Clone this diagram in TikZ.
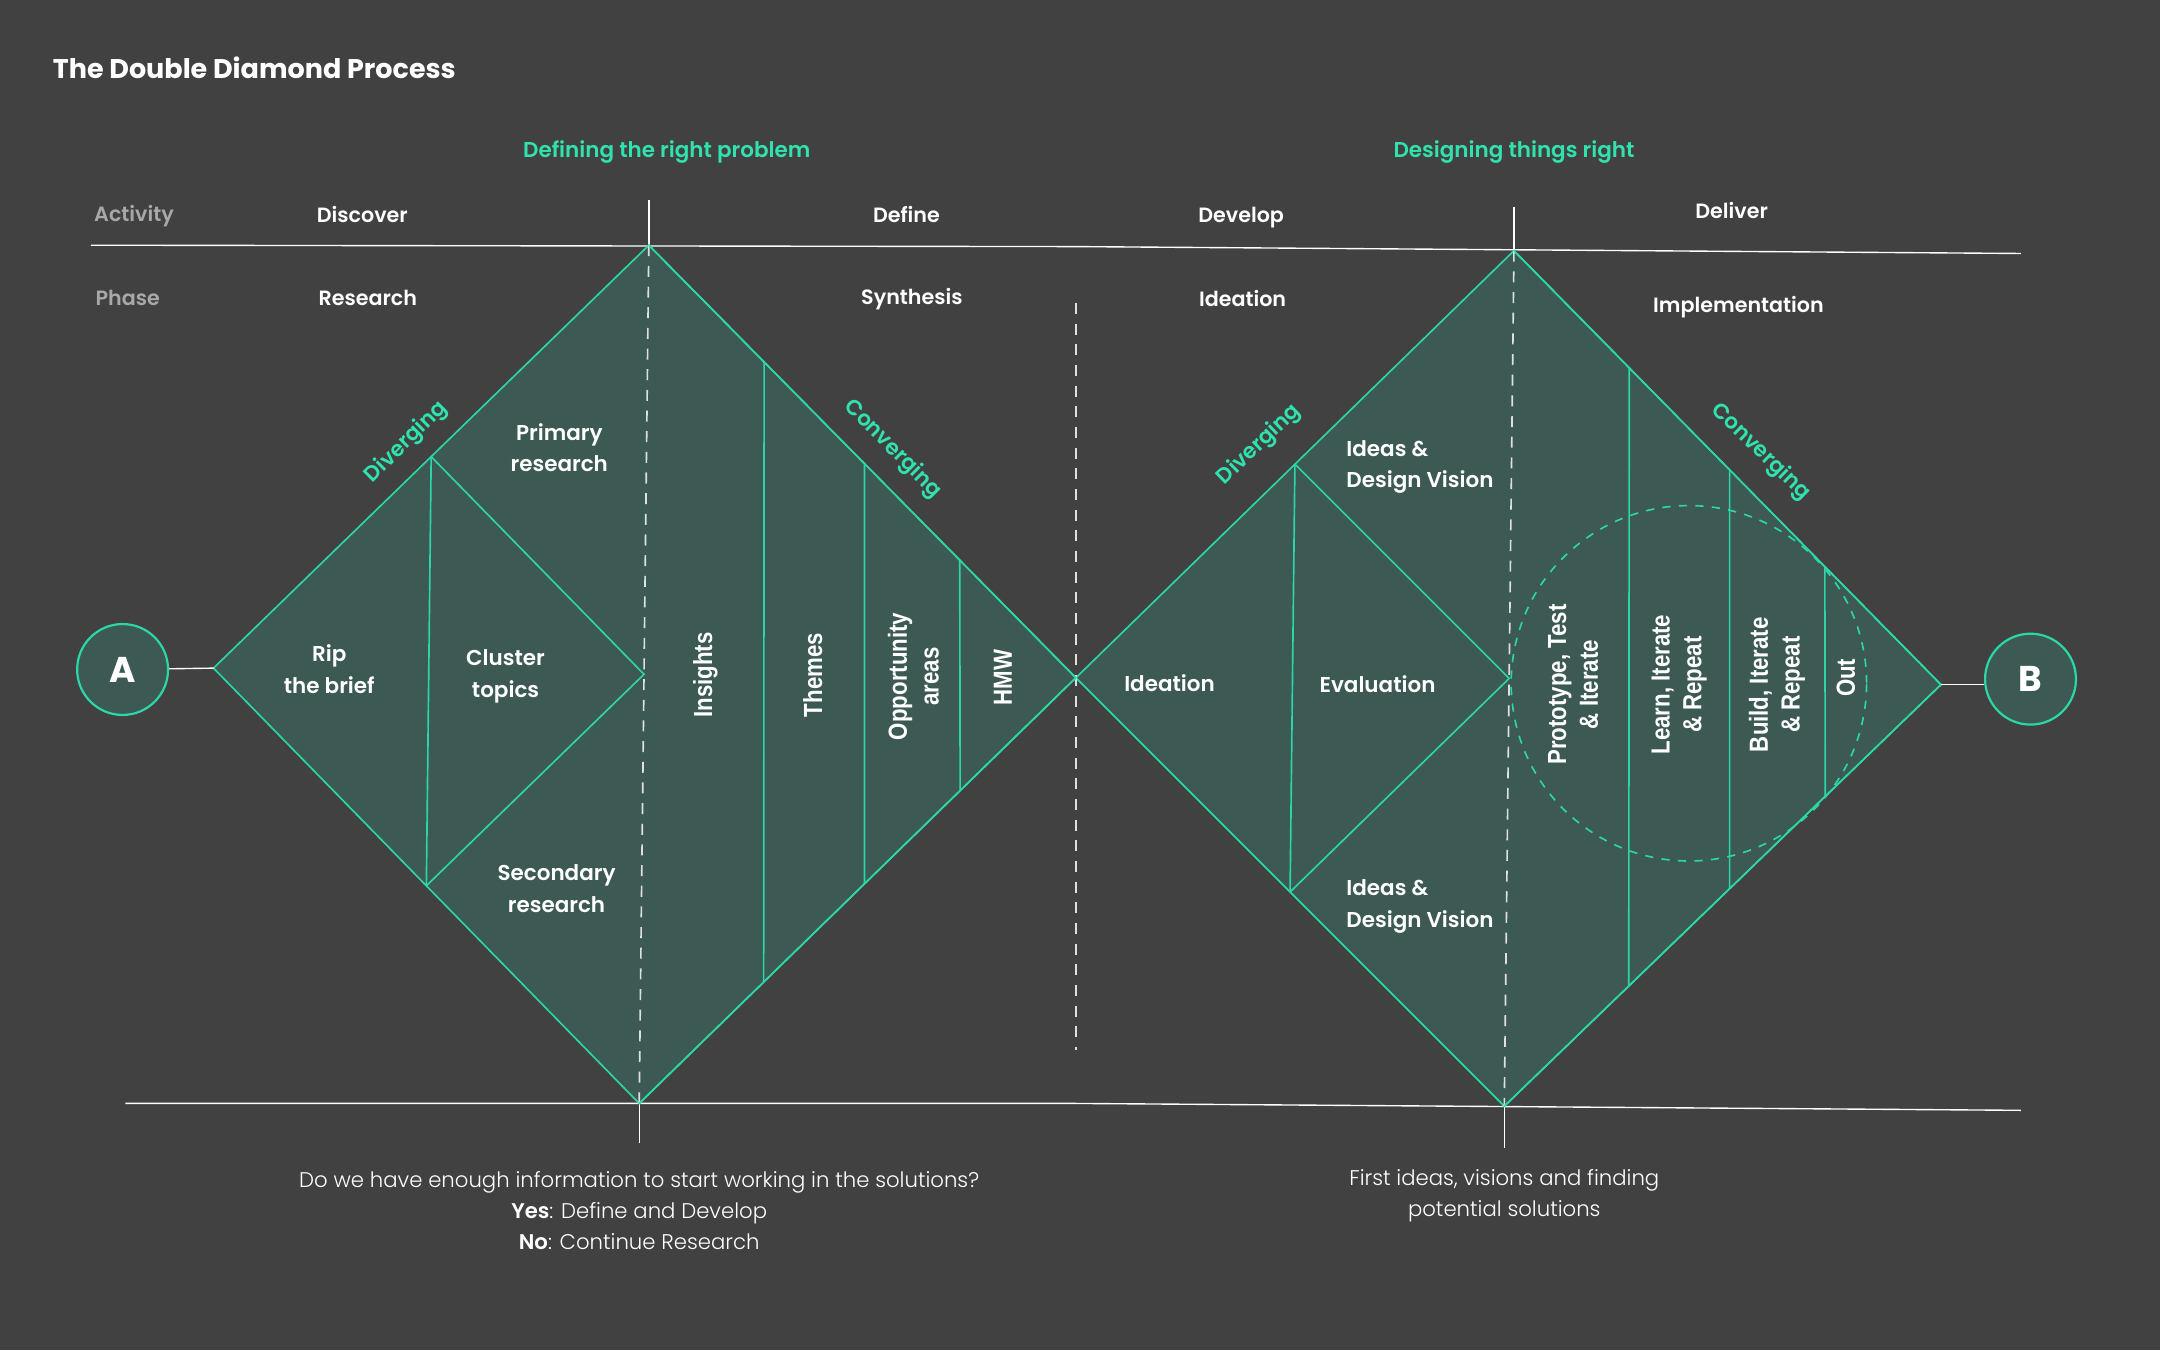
\documentclass[tikz,border=0pt]{standalone}
\usepackage{fontspec}
\setmainfont{Poppins}
\newfontfamily\semib{Poppins SemiBold}
\newfontfamily\plight{Poppins Light}
\newfontfamily\condf[FakeStretch=0.85]{Liberation Sans}
\usetikzlibrary{calc}
\definecolor{bgc}{HTML}{414141}
\definecolor{dfill}{HTML}{3C5A53}
\definecolor{tealline}{HTML}{2CD6A6}
\definecolor{tealtxt}{HTML}{30E2AE}
\definecolor{graytxt}{HTML}{A8A8A8}
\tikzset{
  lbl/.style={text=white, font=\semib\fontsize{7.8}{11.5}\selectfont, align=center, inner sep=0pt},
  hdr/.style={text=white, font=\semib\fontsize{7.5}{9}\selectfont, inner sep=0pt},
  rowlbl/.style={text=graytxt, font=\semib\fontsize{7.5}{9}\selectfont, inner sep=0pt, anchor=west},
  phasetxt/.style={text=tealtxt, font=\semib\fontsize{7.8}{9}\selectfont, inner sep=0pt},
  vlbl/.style={text=white, font=\condf\bfseries\fontsize{9.5}{11.5}\selectfont, rotate=90, align=center, inner sep=0pt},
  dline/.style={draw=tealline, line width=0.6pt},
  dshape/.style={fill=dfill, draw=tealline, line width=0.6pt, line join=miter},
  hrule/.style={draw=white, line width=0.5pt},
  axisdash/.style={draw=white!88!black, line width=0.6pt, dash pattern=on 4pt off 3.5pt},
  endpt/.style={circle, minimum size=33pt, draw=tealline, fill=dfill, line width=0.8pt, text=white, font=\bfseries\fontsize{13}{13}\selectfont, inner sep=0pt},
  notetxt/.style={text=white, font=\plight\fontsize{7.7}{11.25}\selectfont, align=center, inner sep=0pt},
}
\begin{document}
\begin{tikzpicture}[x=0.5pt,y=-0.5pt]
\fill[bgc] (0,0) rectangle (1568,980);
\useasboundingbox (0,0) rectangle (1568,980);

% key points
\coordinate (L1) at (155,485);
\coordinate (T1) at (471,178);
\coordinate (R1) at (781,492);
\coordinate (B1) at (464,801);
\coordinate (T2) at (1099,182);
\coordinate (R2) at (1409,497);
\coordinate (B2) at (1092,803);

% rules
\coordinate (tl) at (66,178);
\coordinate (tm) at (781,179);
\coordinate (tr) at (1467,184);
\coordinate (bl) at (91,801);
\coordinate (bm) at (781,801);
\coordinate (br) at (1467,806);
\draw[hrule] (tl) -- (tm) -- (tr);
\draw[hrule] (bl) -- (bm) -- (br);
\coordinate (tt1) at (471,145);
\coordinate (tt2) at (1099,150);
\coordinate (bt1) at (464,830);
\coordinate (bt2) at (1092,833);
\draw[hrule] (tt1) -- (T1);
\draw[hrule] (tt2) -- (T2);
\draw[hrule] (bt1) -- (B1);
\draw[hrule] (bt2) -- (B2);

% diamonds
\path[dshape] (L1) -- (T1) -- (R1) -- (B1) -- cycle;
\path[dshape] (R1) -- (T2) -- (R2) -- (B2) -- cycle;

% axes
\draw[axisdash] (T1) -- (B1);
\draw[axisdash] (T2) -- (B2);
\coordinate (mtop) at (781,220);
\coordinate (mbot) at (781,762);
\draw[axisdash] (mtop) -- (mbot);

% inner diamonds
\coordinate (iT1) at ($(L1)!.5!(T1)$);
\coordinate (iB1) at ($(L1)!.5!(B1)$);
\coordinate (iR1) at ($(T1)!.5!(B1)$);
\draw[dline] (iT1) -- (iR1) -- (iB1);
\draw[dline] (iT1) -- (iB1);
\coordinate (iT2) at ($(R1)!.5!(T2)$);
\coordinate (iB2) at ($(R1)!.5!(B2)$);
\coordinate (iR2) at ($(T2)!.5!(B2)$);
\draw[dline] (iT2) -- (iR2) -- (iB2);
\draw[dline] (iT2) -- (iB2);

% converging dividers
\foreach \a/\b in {.27/.285, .505/.516, .728/.735}{
  \draw[dline] ($(T1)!\a!(R1)$) -- ($(B1)!\b!(R1)$);
  \draw[dline] ($(T2)!\a!(R2)$) -- ($(B2)!\b!(R2)$);
}
\draw[dline] (T1) -- (R1) -- (B1);
\draw[dline] (T2) -- (R2) -- (B2);

% dashed circle
\node[circle, draw=tealline, line width=0.6pt, dash pattern=on 3pt off 3pt, minimum size=129pt, inner sep=0pt] (loop) at (1226,496) {};

% end points
\node[endpt] (A) at (89,486) {A};
\node[endpt] (B) at (1474,493) {B};
\draw[hrule] (A) -- (L1);
\draw[hrule] (R2) -- (R2 -| B.west);

% title and headers
\node[anchor=west, text=white, font=\bfseries\fontsize{9.8}{12}\selectfont, inner sep=0pt] (title) at (38,49) {The Double Diamond Process};
\node[phasetxt] (prob) at (484,110) {Defining the right problem};
\node[phasetxt] (right) at (1099,110) {Designing things right};
\node[rowlbl] (act) at (68,157) {Activity};
\node[rowlbl] (pha) at (69,216) {Phase};
\node[hdr] (disc) at (263,156) {Discover};
\node[hdr] (defi) at (658,156) {Define};
\node[hdr] (deve) at (901,158) {Develop};
\node[hdr] (deli) at (1257,153) {Deliver};
\node[hdr] (rese) at (267,216) {Research};
\node[hdr] (synt) at (662,217) {Synthesis};
\node[hdr] (idea) at (902,217) {Ideation};
\node[hdr] (impl) at (1262,223) {Implementation};

% diamond 1 labels
\node[phasetxt, rotate=45] (div1) at (295,321) {Diverging};
\node[phasetxt, rotate=-45] (con1) at (648,326) {Converging};
\node[lbl] (prim) at (406,325) {Primary\\research};
\node[lbl] (rip) at (239,486) {Rip\\the brief};
\node[lbl] (clus) at (367,491) {Cluster\\topics};
\node[lbl] (seco) at (404,645) {Secondary\\research};
\node[vlbl] (insi) at (512,490) {Insights};
\node[vlbl] (them) at (590,490) {Themes};
\node[vlbl] (oppo) at (663,491) {Opportunity\\areas};
\node[vlbl] (hmw) at (728,492) {HMW};

% diamond 2 labels
\node[phasetxt, rotate=44] (div2) at (914,323) {Diverging};
\node[phasetxt, rotate=-44] (con2) at (1278,328) {Converging};
\node[lbl, anchor=west, align=left] (ideas1) at (977,339) {Ideas \&\\Design Vision};
\node[lbl, anchor=west, align=left] (ideas2) at (977,658) {Ideas \&\\Design Vision};
\node[lbl] (ideat) at (849,496) {Ideation};
\node[lbl] (eval) at (1000,497) {Evaluation};
\node[vlbl] (prot) at (1142,497) {Prototype, Test\\\& Iterate};
\node[vlbl] (lear) at (1219,497) {Learn, Iterate\\\& Repeat};
\node[vlbl] (buil) at (1290,497) {Build, Iterate\\\& Repeat};
\node[vlbl] (out) at (1340,492) {Out};

% notes
\node[notetxt] (q1) at (464,879) {Do we have enough information to start working in the solutions?\\{\bfseries Yes}: Define and Develop\\{\bfseries No}: Continue Research};
\node[notetxt] (q2) at (1092,868) {First ideas, visions and finding\\potential solutions};
\end{tikzpicture}
\end{document}
